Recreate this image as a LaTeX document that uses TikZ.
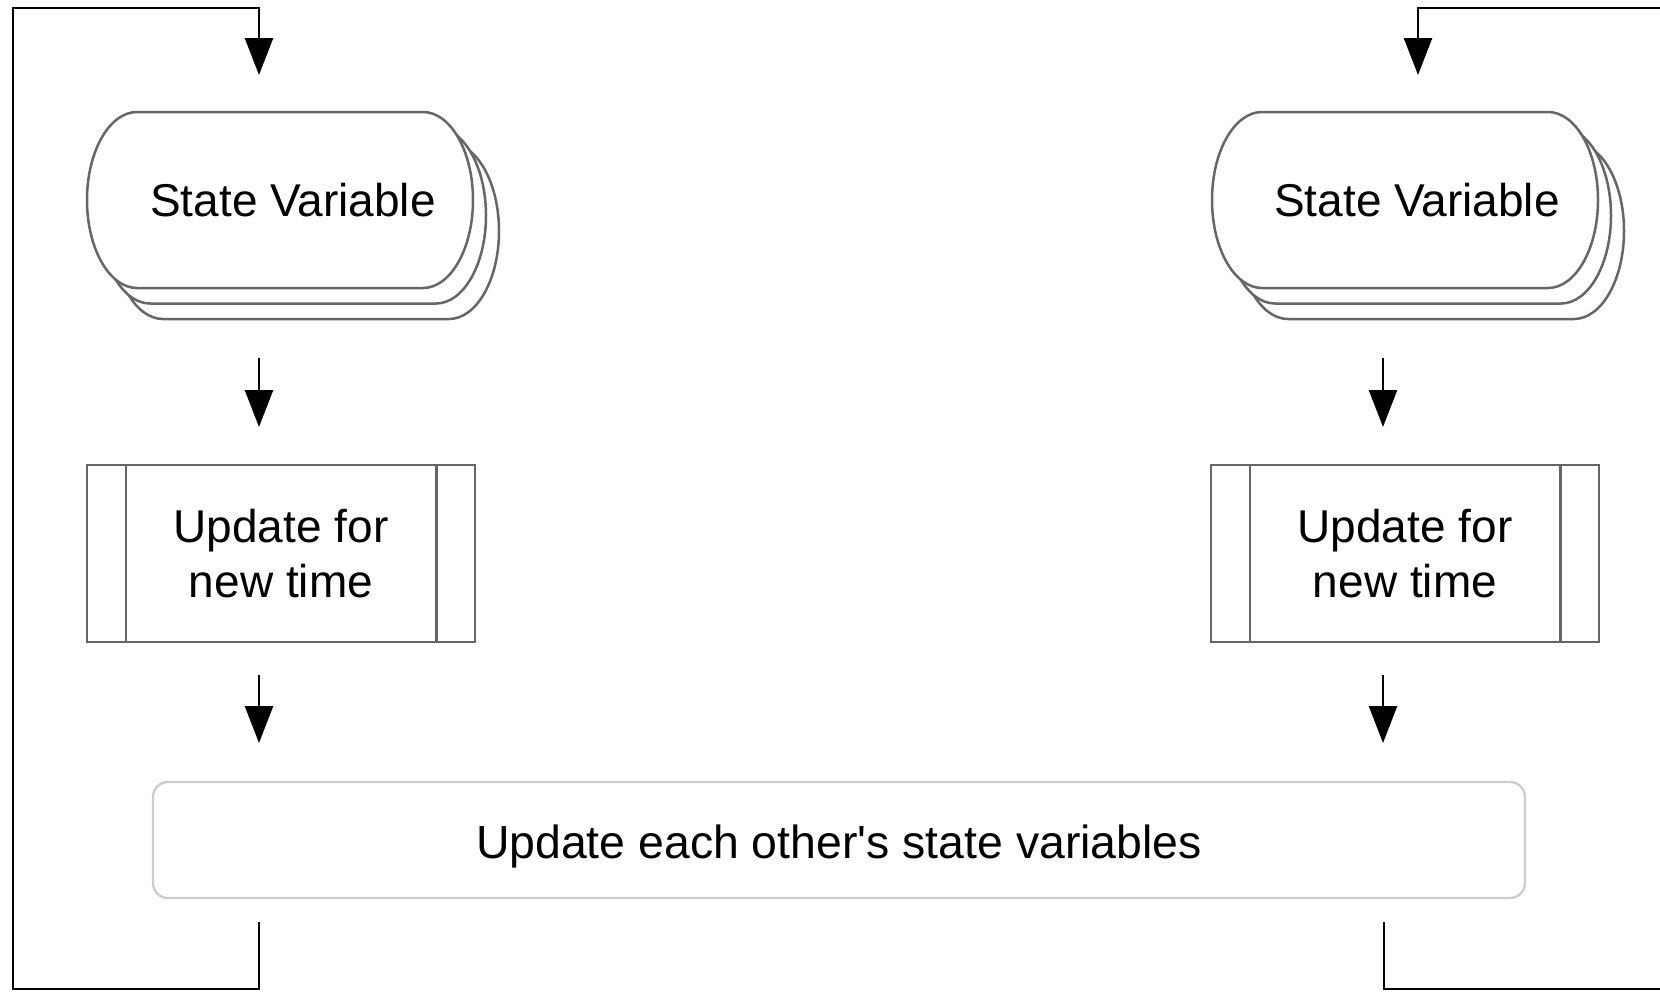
\documentclass[tikz,border=0pt]{standalone}
\usepackage{fontspec}
\setmainfont{Liberation Sans}
\usetikzlibrary{arrows.meta}

\tikzset{
  flow/.style={line width=1.3pt, -{Triangle[length=18.5pt,width=14pt]}},
  plainline/.style={line width=1.3pt},
  shapeline/.style={draw=black!60, line width=1.25pt, fill=white},
  txt/.style={font=\fontsize{23}{27.5}\selectfont, align=center, text=black},
  procbox/.style={shapeline, txt, minimum width=194pt, minimum height=88.5pt, inner sep=0pt},
  groupbox/.style={draw=black!20, line width=1.2pt, rounded corners=7.5pt, fill=white,
    minimum width=686pt, minimum height=58pt, inner sep=0pt},
}

% one layer of the stacked terminal shape: left edge #1, top edge #2
\newcommand\svlayer[2]{%
  \path[shapeline] ({#1+50},#2) -- ({#1+336},#2)
    arc[start angle=-90,end angle=90,x radius=50,y radius=88]
    -- ({#1+50},{#2+176})
    arc[start angle=90,end angle=270,x radius=50,y radius=88] -- cycle;}

\begin{document}
\begin{tikzpicture}[x=0.5pt, y=-0.5pt]
\useasboundingbox (0,0) rectangle (1660,991);

% stacked state variable shapes
\svlayer{113}{143}\svlayer{100}{127.5}\svlayer{87}{112}
\svlayer{1238}{143}\svlayer{1225}{127.5}\svlayer{1212}{112}
\node[txt] (svL) at (293,200) {State Variable};
\node[txt] (svR) at (1417,200) {State Variable};

% predefined-process boxes
\node[procbox] (upL) at (281,553.5) {Update for\\new time};
\node[procbox] (upR) at (1405,553.5) {Update for\\new time};
\foreach \b in {upL,upR}{
  \draw[draw=black!60, line width=1.25pt] ([xshift=20pt]\b.north west) -- ([xshift=20pt]\b.south west);
  \draw[draw=black!60, line width=1.25pt] ([xshift=-20pt]\b.north east) -- ([xshift=-20pt]\b.south east);
}

% shared update box
\node[groupbox] (share) at (839,840) {};
\node[txt, font=\fontsize{23.2}{27.5}\selectfont] (sharetxt) at (839,846)
  {Update each other\textquotesingle s state variables};

% arrow end points
\coordinate (aL1s) at (259,358); \coordinate (aL1e) at (259,427);
\coordinate (aL2s) at (259,675); \coordinate (aL2e) at (259,743);
\coordinate (aR1s) at (1383,358); \coordinate (aR1e) at (1383,427);
\coordinate (aR2s) at (1383,675); \coordinate (aR2e) at (1383,743);

\draw[flow] (aL1s) -- (aL1e);
\draw[flow] (aL2s) -- (aL2e);
\draw[flow] (aR1s) -- (aR1e);
\draw[flow] (aR2s) -- (aR2e);

% feedback loops
\coordinate (loopLs) at (259,922);
\coordinate (loopLb) at (13,989);
\coordinate (loopLt) at (13,8);
\coordinate (loopLe) at (259,75);
\draw[flow] (loopLs) |- (loopLb) -- (loopLt) -| (loopLe);

\coordinate (loopRs) at (1384,922);
\coordinate (loopRb) at (1660,989);
\coordinate (loopRt) at (1660,8);
\coordinate (loopRe) at (1418,75);
\draw[plainline] (loopRs) |- (loopRb);
\draw[flow] (loopRt) -| (loopRe);
\end{tikzpicture}
\end{document}
